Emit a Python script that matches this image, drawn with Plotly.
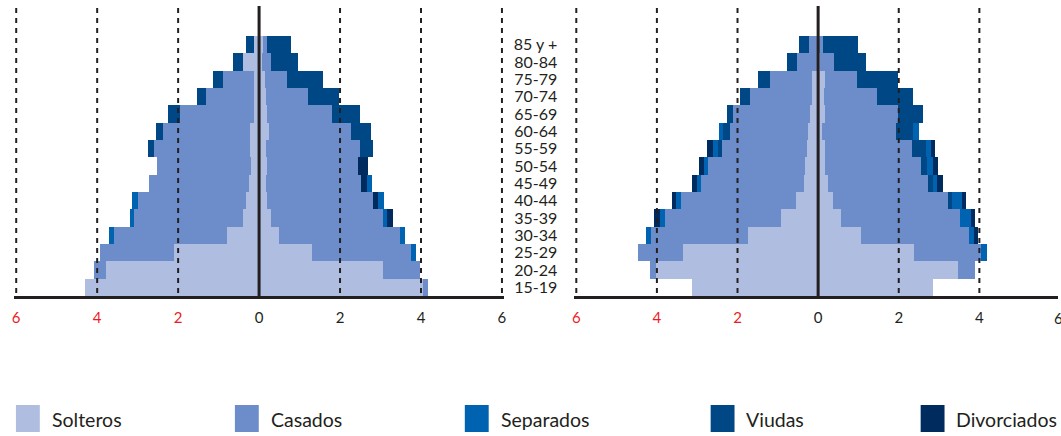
import plotly.graph_objects as go

W, H = 1061, 436

edades = ["15-19", "20-24", "25-29", "30-34", "35-39", "40-44", "45-49", "50-54",
          "55-59", "60-64", "65-69", "70-74", "75-79", "80-84", "85 y +"]

series = ["Solteros", "Casados", "Separados", "Viudas", "Divorciados"]
colores = {"Solteros": "#AFBDE0", "Casados": "#6C8DCA", "Separados": "#0063B1",
           "Viudas": "#004786", "Divorciados": "#002B5F"}

# ---- Pirámide 1, lado izquierdo ----
p1_izq_solteros    = [4.31, 3.79, 2.10, 0.79, 0.40, 0.33, 0.24, 0.20, 0.22, 0.22, 0.12, 0.12, 0.12, 0.39, 0.12]
p1_izq_casados     = [0.00, 0.30, 1.82, 2.80, 2.68, 2.66, 2.48, 2.31, 2.37, 2.15, 1.84, 1.19, 0.77, 0.00, 0.00]
p1_izq_viudas      = [0.00, 0.00, 0.00, 0.00, 0.00, 0.00, 0.00, 0.00, 0.15, 0.17, 0.28, 0.22, 0.25, 0.25, 0.20]
p1_izq_separados   = [0.00, 0.00, 0.00, 0.12, 0.12, 0.15, 0.00, 0.00, 0.00, 0.00, 0.00, 0.00, 0.00, 0.00, 0.00]
p1_izq_divorciados = [0.00] * 15

# ---- Pirámide 1, lado derecho ----
p1_der_solteros    = [4.05, 3.07, 1.30, 0.48, 0.29, 0.19, 0.16, 0.19, 0.16, 0.24, 0.19, 0.16, 0.14, 0.07, 0.09]
p1_der_casados     = [0.12, 0.91, 2.46, 3.00, 2.78, 2.63, 2.36, 2.26, 2.34, 2.04, 1.60, 1.06, 0.54, 0.22, 0.10]
p1_der_viudas      = [0.00, 0.00, 0.00, 0.00, 0.00, 0.00, 0.00, 0.00, 0.31, 0.49, 0.71, 0.76, 0.90, 0.68, 0.59]
p1_der_separados   = [0.00, 0.00, 0.12, 0.12, 0.10, 0.00, 0.00, 0.00, 0.00, 0.00, 0.00, 0.00, 0.00, 0.00, 0.00]
p1_der_divorciados = [0.00, 0.00, 0.00, 0.00, 0.15, 0.12, 0.15, 0.24, 0.00, 0.00, 0.00, 0.00, 0.00, 0.00, 0.00]
# separados drawn beyond divorciados in some age groups
p1_der_separados_ext = [0.00, 0.00, 0.00, 0.00, 0.00, 0.14, 0.12, 0.00, 0.00, 0.00, 0.00, 0.00, 0.00, 0.00, 0.00]

# ---- Pirámide 2, lado izquierdo ----
p2_izq_solteros    = [3.14, 4.02, 3.36, 1.73, 0.92, 0.55, 0.35, 0.33, 0.27, 0.25, 0.19, 0.16, 0.16, 0.00, 0.00]
p2_izq_casados     = [0.00, 0.15, 1.11, 2.42, 2.88, 2.86, 2.56, 2.41, 2.12, 1.93, 1.91, 1.54, 1.04, 0.52, 0.22]
p2_izq_viudas      = [0.00, 0.00, 0.00, 0.00, 0.00, 0.00, 0.00, 0.00, 0.10, 0.17, 0.15, 0.25, 0.30, 0.25, 0.25]
p2_izq_separados   = [0.00, 0.00, 0.00, 0.12, 0.12, 0.12, 0.10, 0.10, 0.12, 0.12, 0.00, 0.00, 0.00, 0.00, 0.00]
p2_izq_divorciados = [0.00, 0.00, 0.00, 0.00, 0.15, 0.10, 0.12, 0.12, 0.15, 0.00, 0.00, 0.00, 0.00, 0.00, 0.00]

# ---- Pirámide 2, lado derecho ----
p2_der_solteros    = [2.86, 3.46, 2.37, 1.06, 0.57, 0.37, 0.25, 0.16, 0.16, 0.10, 0.16, 0.15, 0.16, 0.05, 0.00]
p2_der_casados     = [0.00, 0.42, 1.68, 2.69, 2.96, 2.84, 2.47, 2.38, 2.16, 1.83, 1.81, 1.31, 0.80, 0.35, 0.12]
p2_der_viudas      = [0.00, 0.00, 0.00, 0.00, 0.00, 0.10, 0.12, 0.17, 0.35, 0.42, 0.62, 0.89, 1.01, 0.79, 0.86]
p2_der_separados   = [0.00, 0.00, 0.15, 0.12, 0.25, 0.25, 0.10, 0.15, 0.12, 0.15, 0.00, 0.00, 0.00, 0.00, 0.00]
p2_der_divorciados = [0.00, 0.00, 0.00, 0.10, 0.12, 0.12, 0.15, 0.12, 0.10, 0.00, 0.00, 0.00, 0.00, 0.00, 0.00]

tick_vals = [-6, -4, -2, 0, 2, 4, 6]
tick_text = ["6", "4", "2", "0", "2", "4", "6"]
ROJO = "#ED1C24"
NEGRO = "#231F20"
FONT = "Lato"

fig = go.Figure()


def add_side(xa, ya, sign, stack):
    for nombre, valores in stack:
        fig.add_trace(go.Bar(
            y=edades, x=[sign * v for v in valores], orientation="h",
            xaxis=xa, yaxis=ya, name=nombre, showlegend=False,
            marker=dict(color=colores[nombre], line=dict(width=0)),
        ))


add_side("x", "y", -1, [("Solteros", p1_izq_solteros), ("Casados", p1_izq_casados),
                        ("Viudas", p1_izq_viudas), ("Separados", p1_izq_separados),
                        ("Divorciados", p1_izq_divorciados)])
add_side("x", "y", 1, [("Solteros", p1_der_solteros), ("Casados", p1_der_casados),
                       ("Viudas", p1_der_viudas), ("Separados", p1_der_separados),
                       ("Divorciados", p1_der_divorciados), ("Separados", p1_der_separados_ext)])
add_side("x2", "y2", -1, [("Solteros", p2_izq_solteros), ("Casados", p2_izq_casados),
                          ("Viudas", p2_izq_viudas), ("Separados", p2_izq_separados),
                          ("Divorciados", p2_izq_divorciados)])
add_side("x2", "y2", 1, [("Solteros", p2_der_solteros), ("Casados", p2_der_casados),
                         ("Viudas", p2_der_viudas), ("Separados", p2_der_separados),
                         ("Divorciados", p2_der_divorciados)])

ticktext_html = [f'<span style="color:{ROJO}">{t}</span>' if v < 0 else t
                 for v, t in zip(tick_vals, tick_text)]


def py(pix):
    return 1 - pix / H


xcommon = dict(tickmode="array", tickvals=tick_vals, ticktext=ticktext_html,
               showgrid=False, zeroline=False,
               showline=True, linecolor=NEGRO, linewidth=2.5, ticks="",
               tickfont=dict(family=FONT, size=15, color=NEGRO), ticklabelstandoff=6,
               fixedrange=True)
ycommon = dict(type="category", categoryorder="array", categoryarray=edades,
               tickmode="array", tickvals=edades, ticktext=edades,
               range=[-0.5, 16.23], domain=[py(296), py(6)], showgrid=False,
               zeroline=False, showline=False, ticks="", fixedrange=True)

# pixel geometry of the two panels (zero position, px per unit)
Z1, S1 = 258.3, 40.67
Z2, S2 = 820.0, 40.5
R = 6.05
x1_dom = [(Z1 - R * S1) / W, (Z1 + R * S1) / W]
x2_dom = [(Z2 - R * S2) / W, 1.0]
x2_max = (W - Z2) / S2

fig.update_layout(
    width=W, height=H, margin=dict(l=0, r=0, t=0, b=0),
    paper_bgcolor="white", plot_bgcolor="rgba(0,0,0,0)",
    barmode="relative", bargap=0, showlegend=False,
    font=dict(family=FONT, color=NEGRO),
    xaxis=dict(domain=x1_dom, range=[-R, R], anchor="y", **xcommon),
    xaxis2=dict(domain=x2_dom, range=[-R, x2_max], anchor="y2", **xcommon),
    yaxis=dict(anchor="x", showticklabels=False, **ycommon),
    yaxis2=dict(anchor="x2", showticklabels=True, ticklabelstandoff=16,
                tickfont=dict(family=FONT, size=16, color=NEGRO), **ycommon),
)

shapes = []
for xr in ("x", "x2"):
    for v in tick_vals:
        if v == 0:
            shapes.append(dict(type="line", xref=xr, yref="paper", x0=0, x1=0,
                               y0=py(6), y1=py(296), layer="above",
                               line=dict(color=NEGRO, width=3)))
        else:
            shapes.append(dict(type="line", xref=xr, yref="paper", x0=v, x1=v,
                               y0=py(8), y1=py(296), layer="above",
                               line=dict(color=NEGRO, width=2, dash="5px,5px")))

# legend
leg_sq = [14, 234, 465, 712, 923]
leg_tx = [48, 268, 499, 746, 957]
annotations = []
for nombre, sx, tx in zip(series, leg_sq, leg_tx):
    shapes.append(dict(type="rect", xref="paper", yref="paper",
                       x0=sx / W, x1=(sx + 24) / W, y0=py(432), y1=py(405),
                       fillcolor=colores[nombre], line=dict(width=0), layer="above"))
    annotations.append(dict(xref="paper", yref="paper", x=tx / W, y=py(419),
                            xanchor="left", yanchor="middle", showarrow=False,
                            text=nombre, font=dict(family=FONT, size=19.5, color=NEGRO)))

annotations.append(dict(xref="paper", yref="paper", x=1062 / W, y=py(318),
                        xanchor="center", yanchor="middle", showarrow=False,
                        text="6", font=dict(family=FONT, size=15, color=NEGRO)))

fig.update_layout(shapes=shapes, annotations=annotations)

fig.write_html(
    "out.html",
    config={"displayModeBar": False, "staticPlot": True},
    post_script="document.body.style.margin='0px';document.body.style.overflow='hidden';",
)
